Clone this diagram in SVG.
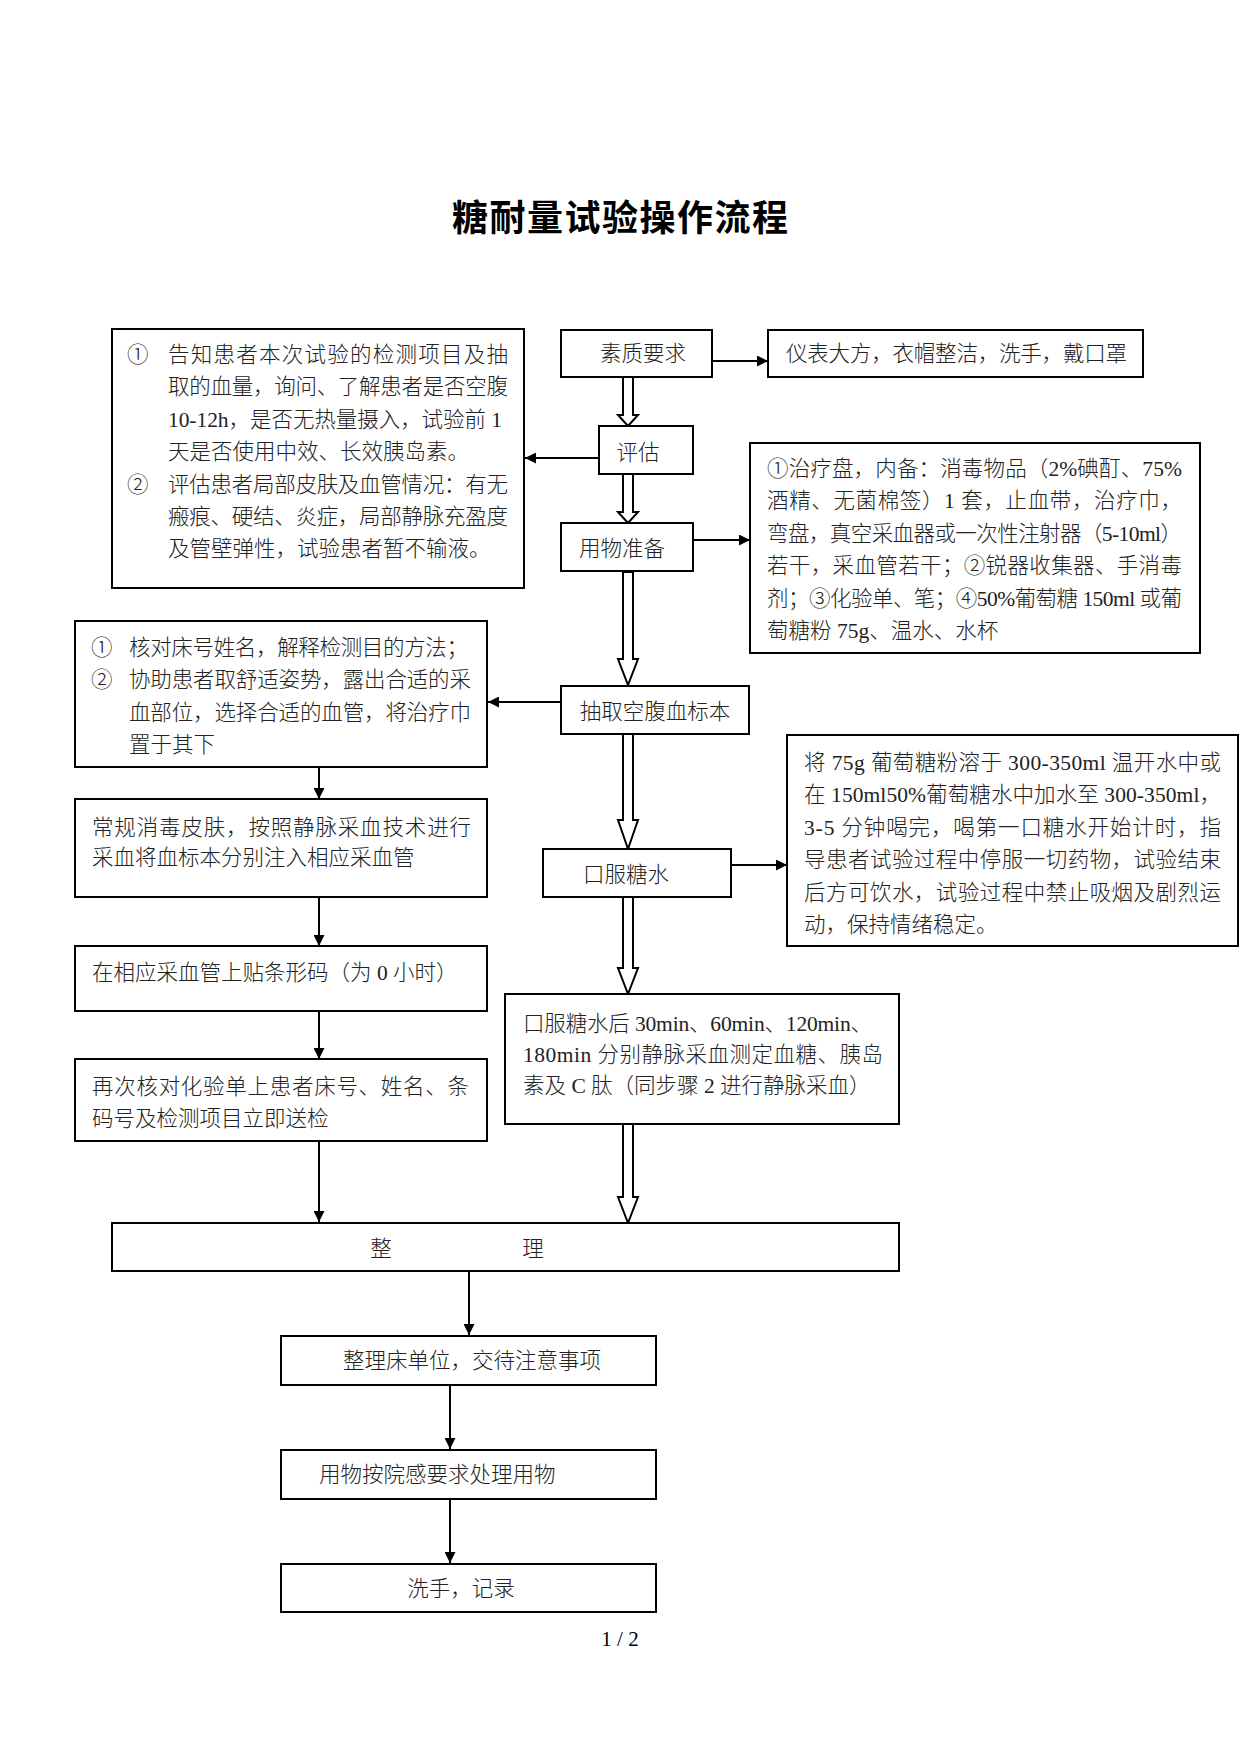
<svg xmlns="http://www.w3.org/2000/svg" width="1241" height="1754" viewBox="0 0 1241 1754">
<style>
.b{fill:#fff;stroke:#000;stroke-width:2}
.t{font-family:"Liberation Serif","Noto Sans CJK SC",serif;font-size:21.5px;font-weight:300;fill:#222}
.c{text-anchor:middle}
.ti{font-family:"Noto Sans CJK SC",sans-serif;font-size:36px;font-weight:bold;fill:#000}
.ln{stroke:#000;stroke-width:2;fill:none}
.ha{fill:#fff;stroke:#000;stroke-width:2;stroke-linejoin:miter}
.ft{font-family:"Liberation Serif",serif;font-size:21px;fill:#000;text-anchor:middle}
</style>
<defs>
<marker id="ah" viewBox="0 0 10 10" refX="10" refY="5" markerWidth="11" markerHeight="11" markerUnits="userSpaceOnUse" orient="auto">
<path d="M0,0 L10,5 L0,10 Z" fill="#000"/>
</marker>
</defs>
<rect width="1241" height="1754" fill="#fff"/>
<text class="ti" x="452" y="231" textLength="336" lengthAdjust="spacing">糖耐量试验操作流程</text>

<g id="connectors">
<line class="ln" x1="712" y1="361" x2="768" y2="361" marker-end="url(#ah)"/>
<line class="ln" x1="599" y1="458" x2="525" y2="458" marker-end="url(#ah)"/>
<line class="ln" x1="693" y1="540" x2="750" y2="540" marker-end="url(#ah)"/>
<line class="ln" x1="561" y1="702" x2="488" y2="702" marker-end="url(#ah)"/>
<line class="ln" x1="731" y1="865" x2="787" y2="865" marker-end="url(#ah)"/>
<line class="ln" x1="319" y1="767" x2="319" y2="799" marker-end="url(#ah)"/>
<line class="ln" x1="319" y1="897" x2="319" y2="946" marker-end="url(#ah)"/>
<line class="ln" x1="319" y1="1011" x2="319" y2="1059" marker-end="url(#ah)"/>
<line class="ln" x1="319" y1="1141" x2="319" y2="1222" marker-end="url(#ah)"/>
<line class="ln" x1="469" y1="1271" x2="469" y2="1335" marker-end="url(#ah)"/>
<line class="ln" x1="450" y1="1385" x2="450" y2="1449" marker-end="url(#ah)"/>
<line class="ln" x1="450" y1="1499" x2="450" y2="1563" marker-end="url(#ah)"/>
<polygon class="ha" points="623,377 633,377 633,415 638,415 628,426 618,415 623,415"/>
<polygon class="ha" points="623,474 633,474 633,512 638,512 628,523 618,512 623,512"/>
<polygon class="ha" points="623,572 633,572 633,659 638,659 628,685 618,659 623,659"/>
<polygon class="ha" points="623,734 633,734 633,820 638,820 628,849 618,820 623,820"/>
<polygon class="ha" points="623,897 633,897 633,968 638,968 628,994 618,968 623,968"/>
<polygon class="ha" points="623,1124 633,1124 633,1197 638,1197 628,1223 618,1197 623,1197"/>
</g>

<g id="assess-detail">
<rect class="b" x="112" y="329" width="412" height="259"/>
<text class="t" x="127" y="362">①</text>
<text class="t" x="168" y="362" textLength="340" lengthAdjust="spacing">告知患者本次试验的检测项目及抽</text>
<text class="t" x="168" y="394.4" textLength="340" lengthAdjust="spacing">取的血量，询问、了解患者是否空腹</text>
<text class="t" x="168" y="426.8" textLength="334" lengthAdjust="spacing">10-12h，是否无热量摄入，试验前 1</text>
<text class="t" x="168" y="459.2">天是否使用中效、长效胰岛素。</text>
<text class="t" x="127" y="491.6">②</text>
<text class="t" x="168" y="491.6" textLength="340" lengthAdjust="spacing">评估患者局部皮肤及血管情况：有无</text>
<text class="t" x="168" y="524" textLength="340" lengthAdjust="spacing">瘢痕、硬结、炎症，局部静脉充盈度</text>
<text class="t" x="168" y="556.4">及管壁弹性，试验患者暂不输液。</text>
</g>

<g id="quality">
<rect class="b" x="561" y="330" width="151" height="47"/>
<text class="t c" x="643" y="361">素质要求</text>
</g>

<g id="quality-detail">
<rect class="b" x="768" y="330" width="375" height="47"/>
<text class="t" x="786" y="361" textLength="341" lengthAdjust="spacing">仪表大方，衣帽整洁，洗手，戴口罩</text>
</g>

<g id="assess">
<rect class="b" x="599" y="426" width="94" height="48"/>
<text class="t c" x="638" y="460">评估</text>
</g>

<g id="prepare">
<rect class="b" x="561" y="523" width="132" height="48"/>
<text class="t c" x="622" y="556">用物准备</text>
</g>

<g id="prepare-detail">
<rect class="b" x="750" y="443" width="450" height="210"/>
<text class="t" x="767" y="476" textLength="415" lengthAdjust="spacing">①治疗盘，内备：消毒物品（2%碘酊、75%</text>
<text class="t" x="767" y="508.4" textLength="415" lengthAdjust="spacing">酒精、无菌棉签）1 套，止血带，治疗巾，</text>
<text class="t" x="767" y="540.8" textLength="415" lengthAdjust="spacing">弯盘，真空采血器或一次性注射器（5-10ml）</text>
<text class="t" x="767" y="573.2" textLength="415" lengthAdjust="spacing">若干，采血管若干；②锐器收集器、手消毒</text>
<text class="t" x="767" y="605.6" textLength="415" lengthAdjust="spacing">剂；③化验单、笔；④50%葡萄糖 150ml 或葡</text>
<text class="t" x="767" y="638">萄糖粉 75g、温水、水杯</text>
</g>

<g id="draw-blood">
<rect class="b" x="561" y="686" width="188" height="48"/>
<text class="t c" x="655" y="719">抽取空腹血标本</text>
</g>

<g id="draw-detail">
<rect class="b" x="75" y="621" width="412" height="146"/>
<text class="t" x="91" y="655">①</text>
<text class="t" x="129" y="655" textLength="339" lengthAdjust="spacing">核对床号姓名，解释检测目的方法；</text>
<text class="t" x="91" y="687">②</text>
<text class="t" x="129" y="687" textLength="342" lengthAdjust="spacing">协助患者取舒适姿势，露出合适的采</text>
<text class="t" x="129" y="720" textLength="342" lengthAdjust="spacing">血部位，选择合适的血管，将治疗巾</text>
<text class="t" x="129" y="752">置于其下</text>
</g>

<g id="disinfect">
<rect class="b" x="75" y="799" width="412" height="98"/>
<text class="t" x="92" y="835" textLength="379" lengthAdjust="spacing">常规消毒皮肤，按照静脉采血技术进行</text>
<text class="t" x="92" y="865">采血将血标本分别注入相应采血管</text>
</g>

<g id="barcode">
<rect class="b" x="75" y="946" width="412" height="65"/>
<text class="t" x="92" y="980">在相应采血管上贴条形码（为 0 小时）</text>
</g>

<g id="recheck">
<rect class="b" x="75" y="1059" width="412" height="82"/>
<text class="t" x="92" y="1094" textLength="377" lengthAdjust="spacing">再次核对化验单上患者床号、姓名、条</text>
<text class="t" x="92" y="1126">码号及检测项目立即送检</text>
</g>

<g id="oral-glucose">
<rect class="b" x="543" y="849" width="188" height="48"/>
<text class="t c" x="626" y="882">口服糖水</text>
</g>

<g id="oral-detail">
<rect class="b" x="787" y="735" width="451" height="211"/>
<text class="t" x="804" y="770" textLength="417" lengthAdjust="spacing">将 75g 葡萄糖粉溶于 300-350ml 温开水中或</text>
<text class="t" x="804" y="802.4" textLength="417" lengthAdjust="spacing">在 150ml50%葡萄糖水中加水至 300-350ml，</text>
<text class="t" x="804" y="834.8" textLength="417" lengthAdjust="spacing">3-5 分钟喝完，喝第一口糖水开始计时，指</text>
<text class="t" x="804" y="867.2" textLength="417" lengthAdjust="spacing">导患者试验过程中停服一切药物，试验结束</text>
<text class="t" x="804" y="899.6" textLength="417" lengthAdjust="spacing">后方可饮水，试验过程中禁止吸烟及剧烈运</text>
<text class="t" x="804" y="932">动，保持情绪稳定。</text>
</g>

<g id="timed-samples">
<rect class="b" x="505" y="994" width="394" height="130"/>
<text class="t" x="523" y="1031" textLength="349" lengthAdjust="spacing">口服糖水后 30min、60min、120min、</text>
<text class="t" x="523" y="1062" textLength="360" lengthAdjust="spacing">180min 分别静脉采血测定血糖、胰岛</text>
<text class="t" x="523" y="1093">素及 C 肽（同步骤 2 进行静脉采血）</text>
</g>

<g id="tidy">
<rect class="b" x="112" y="1223" width="787" height="48"/>
<text class="t c" x="381" y="1256">整</text>
<text class="t c" x="533" y="1256">理</text>
</g>

<g id="bed">
<rect class="b" x="281" y="1336" width="375" height="49"/>
<text class="t c" x="472" y="1368">整理床单位，交待注意事项</text>
</g>

<g id="waste">
<rect class="b" x="281" y="1450" width="375" height="49"/>
<text class="t" x="319" y="1482">用物按院感要求处理用物</text>
</g>

<g id="record">
<rect class="b" x="281" y="1564" width="375" height="48"/>
<text class="t c" x="461" y="1596">洗手，记录</text>
</g>

<text class="ft" x="620" y="1646">1 / 2</text>
</svg>
